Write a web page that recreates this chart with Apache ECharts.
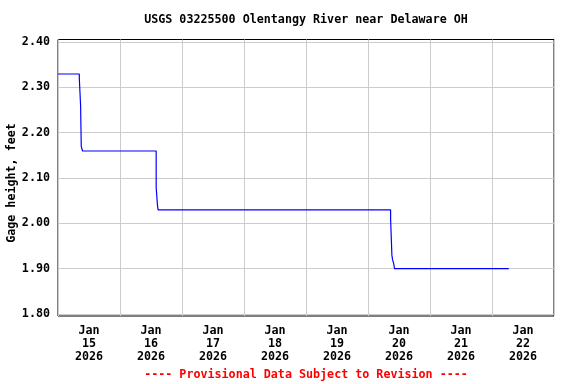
<!DOCTYPE html>
<html><head><meta charset="utf-8">
<script src="https://cdn.jsdelivr.net/npm/echarts@6/dist/echarts.min.js"></script>
<style>html,body{margin:0;padding:0;background:#fff}#c{width:576px;height:384px}</style>
</head><body><div id="c"></div>
<script>
// Data (UTC timestamps of readings, gage height in feet); drawn as a step line
var times = [
  '2026-01-15T00:00', '2026-01-15T08:15', '2026-01-15T08:45', '2026-01-15T09:00',
  '2026-01-15T09:30', '2026-01-16T14:00', '2026-01-16T14:30', '2026-01-16T14:45',
  '2026-01-20T08:45', '2026-01-20T09:15', '2026-01-20T09:30', '2026-01-20T10:00',
  '2026-01-20T10:15', '2026-01-22T06:30'
];
var values = [
  2.33, 2.32, 2.26, 2.17,
  2.16, 2.08, 2.04, 2.03,
  2.01, 1.93, 1.92, 1.91,
  1.90, 1.90
];
var dayLabels = ['Jan\n15\n2026','Jan\n16\n2026','Jan\n17\n2026','Jan\n18\n2026','Jan\n19\n2026','Jan\n20\n2026','Jan\n21\n2026','Jan\n22\n2026'];
var yTicks = { min: 1.8, max: 2.4, interval: 0.1 };
var titleText = 'USGS 03225500 Olentangy River near Delaware OH';
var footerText = '---- Provisional Data Subject to Revision ----';
var yName = 'Gage height, feet';

var DAY = 86400000;
var t0 = Date.parse('2026-01-15T00:00:00Z');
var seriesData = times.map(function (t, i) { return [Date.parse(t + ':00Z'), values[i]]; });

var font = 'DejaVu Sans Mono';
var fs = 11.7;
var chart = echarts.init(document.getElementById('c'), null, { renderer: 'canvas' });
chart.setOption({
  animation: false,
  backgroundColor: '#fff',
  title: [
    { text: titleText, left: 306, textAlign: 'center', top: 14, padding: 0,
      textStyle: { fontFamily: font, fontSize: fs, fontWeight: 'bold', color: '#000' } },
    { text: footerText, left: 306, textAlign: 'center', top: 369, padding: 0,
      textStyle: { fontFamily: font, fontSize: fs, fontWeight: 'bold', color: '#ff0000' } }
  ],
  grid: [
    { left: 58, width: 496, top: 39.5, height: 276.5, show: true, borderColor: '#000', borderWidth: 1,
      backgroundColor: 'transparent', outerBoundsMode: 'none', containLabel: false },
    { left: 58, width: 496, top: 42, height: 272, show: false, outerBoundsMode: 'none', containLabel: false }
  ],
  xAxis: [
    { type: 'value', gridIndex: 0, min: t0, max: t0 + 8 * DAY, interval: DAY,
      axisLine: { show: false }, axisTick: { show: false }, axisLabel: { show: false },
      splitLine: { show: true, lineStyle: { color: '#cccccc', width: 1 } } },
    { type: 'category', gridIndex: 1, data: dayLabels, boundaryGap: true, position: 'bottom',
      axisLine: { show: false }, axisTick: { show: false }, splitLine: { show: false },
      axisLabel: { margin: 10, fontFamily: font, fontSize: fs, fontWeight: 'bold', color: '#000', lineHeight: 13, interval: 0 } }
  ],
  yAxis: [
    { type: 'value', gridIndex: 0, min: 1.7956, max: 2.4062,
      axisLine: { show: false }, axisTick: { show: false }, axisLabel: { show: false }, splitLine: { show: false } },
    { type: 'value', gridIndex: 1, min: yTicks.min, max: yTicks.max, interval: yTicks.interval,
      name: yName, nameLocation: 'middle', nameGap: 40, nameRotate: 90, nameMoveOverlap: false,
      nameTextStyle: { fontFamily: font, fontSize: fs, fontWeight: 'bold', color: '#000', padding: [0, 10, 0, 0] },
      axisLine: { show: false }, axisTick: { show: false },
      axisLabel: { margin: 8, fontFamily: font, fontSize: fs, fontWeight: 'bold', color: '#000',
        formatter: function (v) { return v.toFixed(2); } },
      splitLine: { show: true, lineStyle: { color: '#cccccc', width: 1 } } }
  ],
  series: [{
    type: 'line', xAxisIndex: 0, yAxisIndex: 0, data: seriesData, step: 'end',
    showSymbol: false, symbol: 'none', lineStyle: { color: '#0000ff', width: 1.2 }, z: 5
  }]
});
</script></body></html>
